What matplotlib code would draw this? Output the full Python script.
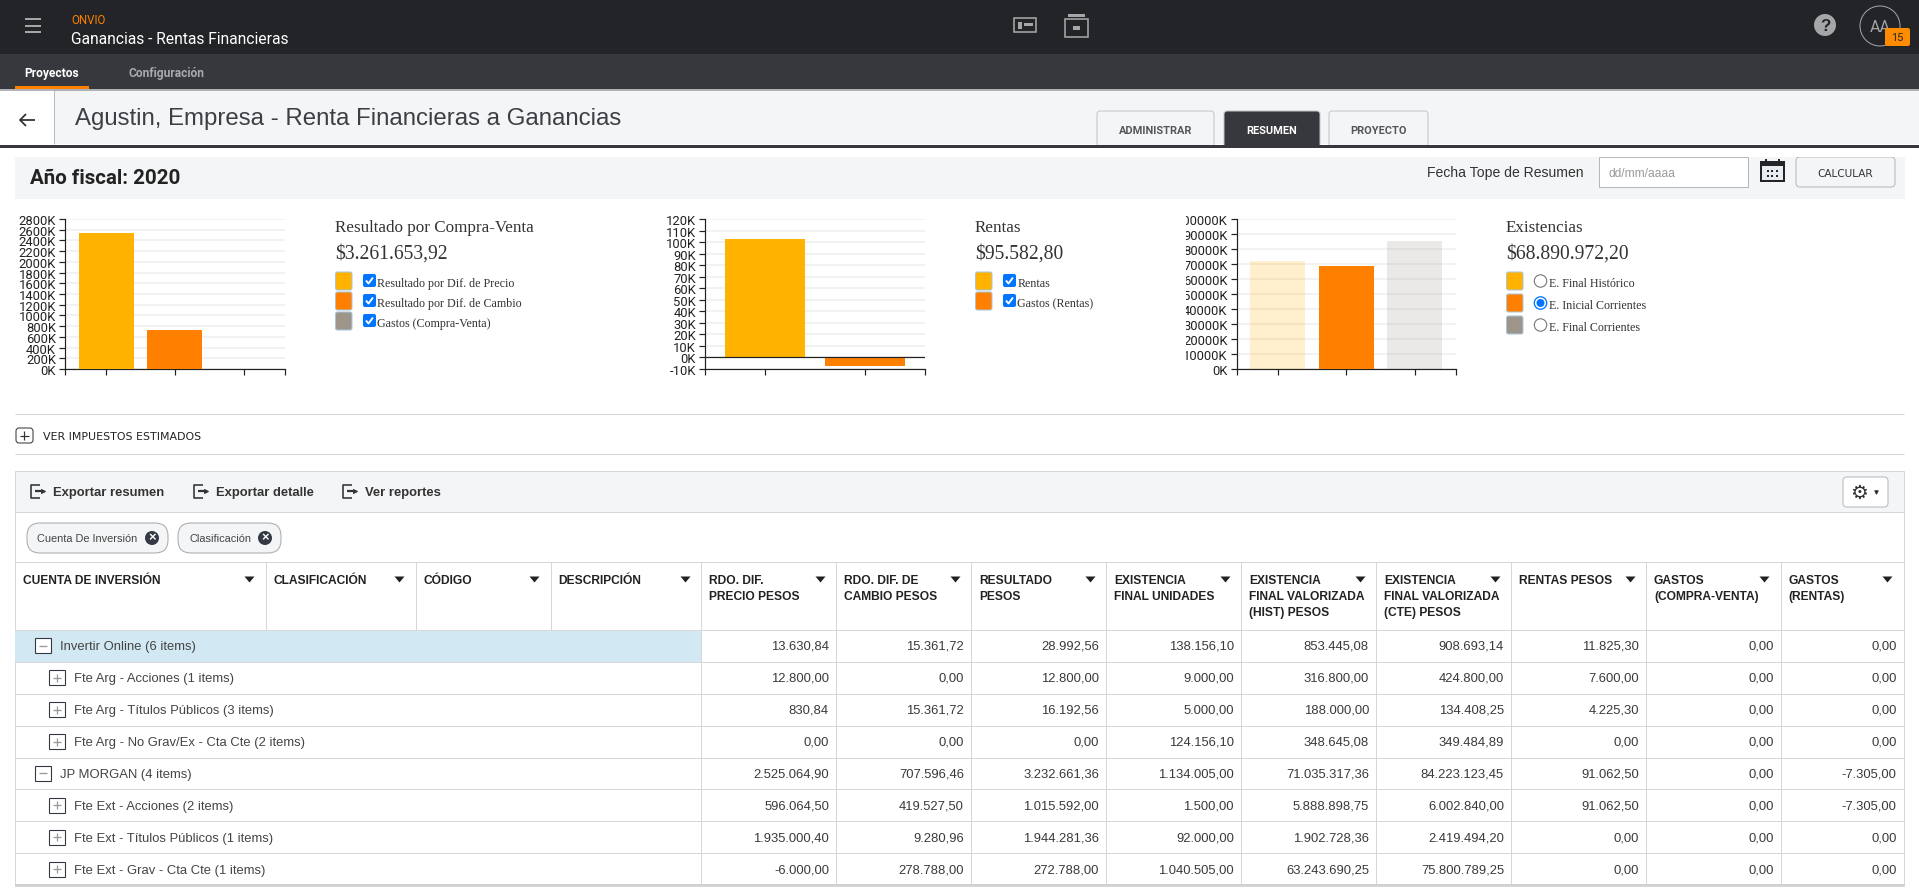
import matplotlib.pyplot as plt
import pandas as pd
from matplotlib.patches import Rectangle, FancyBboxPatch, Circle
from matplotlib.transforms import Bbox, TransformedBbox

inches_per_px = 1.0/72.0                # one point is one pixel at dpi 72
fig_size = [1920*inches_per_px, 896*inches_per_px]

#chart values
compra_venta = [2538695.74, 722958.18, 0.0]
compra_venta_labels = ["Resultado por Dif. de Precio", "Resultado por Dif. de Cambio", "Gastos (Compra-Venta)"]
rentas = [102887.80, -7305.00]
rentas_labels = ["Rentas", "Gastos (Rentas)"]
existencias = [71888762.44, 68890972.20, 85131816.59]
existencias_labels = ["E. Final Histórico", "E. Inicial Corrientes", "E. Final Corrientes"]

#table values
row_labels = ["Invertir Online (6 items)", "Fte Arg - Acciones (1 items)", "Fte Arg - Títulos Públicos (3 items)",
              "Fte Arg - No Grav/Ex - Cta Cte (2 items)", "JP MORGAN (4 items)", "Fte Ext - Acciones (2 items)",
              "Fte Ext - Títulos Públicos (1 items)", "Fte Ext - Grav - Cta Cte (1 items)"]
precio = ["13.630,84", "12.800,00", "830,84", "0,00", "2.525.064,90", "596.064,50", "1.935.000,40", "-6.000,00"]
cambio = ["15.361,72", "0,00", "15.361,72", "0,00", "707.596,46", "419.527,50", "9.280,96", "278.788,00"]
resultado = ["28.992,56", "12.800,00", "16.192,56", "0,00", "3.232.661,36", "1.015.592,00", "1.944.281,36", "272.788,00"]
unidades = ["138.156,10", "9.000,00", "5.000,00", "124.156,10", "1.134.005,00", "1.500,00", "92.000,00", "1.040.505,00"]
hist = ["853.445,08", "316.800,00", "188.000,00", "348.645,08", "71.035.317,36", "5.888.898,75", "1.902.728,36", "63.243.690,25"]
cte = ["908.693,14", "424.800,00", "134.408,25", "349.484,89", "84.223.123,45", "6.002.840,00", "2.419.494,20", "75.800.789,25"]
rentas_pesos = ["11.825,30", "7.600,00", "4.225,30", "0,00", "91.062,50", "91.062,50", "0,00", "0,00"]
gastos_cv = ["0,00", "0,00", "0,00", "0,00", "0,00", "0,00", "0,00", "0,00"]
gastos_rentas = ["0,00", "0,00", "0,00", "0,00", "-7.305,00", "-7.305,00", "0,00", "0,00"]
headers = [["CUENTA DE INVERSIÓN"], ["CLASIFICACIÓN"], ["CÓDIGO"], ["DESCRIPCIÓN"],
           ["RDO. DIF.", "PRECIO PESOS"], ["RDO. DIF. DE", "CAMBIO PESOS"], ["RESULTADO", "PESOS"],
           ["EXISTENCIA", "FINAL UNIDADES"], ["EXISTENCIA", "FINAL VALORIZADA", "(HIST) PESOS"],
           ["EXISTENCIA", "FINAL VALORIZADA", "(CTE) PESOS"], ["RENTAS PESOS"],
           ["GASTOS", "(COMPRA-VENTA)"], ["GASTOS", "(RENTAS)"]]

col_edges = [15.5, 266, 416, 551, 701.5, 836.5, 971.5, 1106.5, 1241.5, 1376.5, 1511.5, 1646.5, 1781, 1904]
row_edges = [630.5, 662.5, 694.5, 726.5, 758.5, 790.5, 822.5, 854.5, 886.5]

YELLOW = '#ffb300'
ORANGE = '#ff8000'
GREY = '#9e958a'
LINE = '#d5d7da'
BAND = '#f4f5f7'
DARK = '#232428'
TEXT = '#333333'

params = {
  'font.family': 'Liberation Sans',
  'axes.linewidth': 1.2,
  'xtick.major.width': 1.2,
  'ytick.major.width': 1.2,
  'savefig.dpi': 72,
  'figure.dpi': 72,
  }
plt.rcParams.update(params)

fig = plt.figure(figsize=fig_size)
page = fig.add_axes([0, 0, 1, 1])
page.set_xlim(0, 1920)
page.set_ylim(896, 0)
page.axis('off')


#page helpers, all in pixels from the top left
def box(x0, y0, x1, y1, color, edge='none', lw=1.0, round_px=0, z=1):
    if round_px:
        page.add_patch(FancyBboxPatch((x0, y0), x1-x0, y1-y0, boxstyle="round,pad=0,rounding_size=%s" % round_px,
                                      facecolor=color, edgecolor=edge, linewidth=lw, zorder=z))
    else:
        page.add_patch(Rectangle((x0, y0), x1-x0, y1-y0, facecolor=color, edgecolor=edge, linewidth=lw, zorder=z))


def line(xs, ys, color=LINE, lw=1.0, z=2):
    page.plot(xs, ys, color=color, linewidth=lw, zorder=z, solid_capstyle='butt')


def txt(x, y, s, size=13, color=TEXT, weight='normal', family='Liberation Sans', ha='left'):
    page.text(x, y+1, s, fontsize=size, color=color, fontweight=weight, family=family, ha=ha, va='center', zorder=5)


def circle(x, y, r, color, edge='none', lw=1.0):
    page.add_patch(Circle((x, y), r, facecolor=color, edgecolor=edge, linewidth=lw, zorder=4))


def export_icon(x, y):
    line([x+9, x, x, x+9], [y-6, y-6, y+7, y+7], color=TEXT, lw=1.6, z=4)
    line([x+4, x+11], [y, y], color=TEXT, lw=2.2, z=4)
    page.plot([x+12], [y], marker='>', color=TEXT, markersize=4, zorder=4)


def toggle(x, y, sign):
    box(x-8, y-7.5, x+8, y+7.5, 'white', edge='#333a44', lw=1.1, z=4)
    line([x-4, x+4], [y, y], color='#999999', lw=1.3, z=5)
    if sign == '+':
        line([x, x], [y-4, y+4], color='#999999', lw=1.3, z=5)


def plot_header():
    box(0, 0, 1920, 55, DARK)
    box(0, 55, 1920, 90, '#37383d')
    for y in [20, 27, 33]:
        line([25, 41], [y, y], color='#a5a6a8', lw=2)
    txt(71, 19, "ONVIO", size=11.5, color='#ff8000', family='Roboto')
    txt(71, 38, "Ganancias - Rentas Financieras", size=15.6, color='white', family='Roboto')
    txt(24, 72, "Proyectos", size=12, color='white', weight='bold', family='Roboto')
    txt(129, 72, "Configuración", size=12, color='#a8a9ab', weight='bold', family='Roboto')
    box(15, 87, 89, 90, ORANGE)
    #id card
    box(1014, 19, 1036, 33, 'none', edge='#a5a6a8', lw=1.6, z=3)
    box(1018, 23, 1022, 30, '#a5a6a8', z=3)
    box(1024, 24, 1033, 27, '#a5a6a8', z=3)
    #archive box
    box(1068, 15, 1085, 18, '#a5a6a8', z=3)
    box(1065, 20, 1088, 38, 'none', edge='#a5a6a8', lw=1.6, z=3)
    box(1073, 27, 1080, 31, '#a5a6a8', z=3)
    circle(1825, 26, 11, '#a5a6a8')
    page.text(1825, 26.5, "?", fontsize=17, color=DARK, fontweight='bold', ha='center', va='center', zorder=5)
    circle(1880, 27, 20, 'none', edge='#a5a6a8', lw=1.0)
    txt(1880, 26, "AA", size=16, color='#a5a6a8', family='Roboto', ha='center')
    box(1885, 29, 1910, 47, '#ff8c00', round_px=2, z=5)
    page.text(1897, 38, "15", fontsize=11, color=DARK, ha='center', va='center', zorder=6, family='Roboto')
    #title band
    box(0, 90, 1920, 145, BAND)
    box(0, 90, 54, 145, 'white')
    line([0, 1920], [91, 91], color='#9a9b9e', lw=1.5, z=3)   # shadow under the nav
    line([54, 54], [91, 145], color='#b9babd')
    line([20, 35], [121, 121], color=TEXT, lw=1.8, z=4)
    line([26, 20, 26], [115, 121, 127], color=TEXT, lw=1.8, z=4)
    txt(75, 118, "Agustin, Empresa - Renta Financieras a Ganancias", size=24, color='#3d3f45')
    box(0, 145.5, 1920, 148.5, '#37383d', z=3)
    for x0, x1, s, bg, fg in [(1097, 1214, "ADMINISTRAR", BAND, '#55565a'), (1224, 1320, "RESUMEN", '#37383d', 'white'),
                              (1329, 1428, "PROYECTO", BAND, '#55565a')]:
        box(x0, 112, x1, 150, bg, edge='#c3c5c8', round_px=3, z=2)
        txt((x0+x1)/2, 130, s, size=11, color=fg, weight='bold', family='Roboto', ha='center')
    box(0, 148.5, 1920, 158, 'white', z=2)
    #fiscal year band
    box(15, 158, 1905, 200, BAND)
    txt(30, 177.5, "Año fiscal: 2020", size=20.5, color='#222222', weight='bold', family='Roboto')
    txt(1584, 172, "Fecha Tope de Resumen", size=14, ha='right')
    box(1599, 158, 1748, 188, 'white', edge='#b5b7ba')
    txt(1609, 173, "dd/mm/aaaa", size=12, color='#9a9a9a')
    #calendar
    box(1760, 162, 1785, 183, DARK, z=3)
    box(1765, 160, 1767, 164, DARK, z=3)
    box(1778, 160, 1780, 164, DARK, z=3)
    box(1762, 167, 1783, 181, '#e8edf2', z=3)
    for x in [1768, 1772.5, 1777]:
        for y in [172, 177]:
            box(x-1, y-1, x+1, y+1, DARK, z=4)
    box(1796, 158, 1895, 188, BAND, edge='#b5b7ba', round_px=4)
    page.text(1845, 174, "CALCULAR", fontsize=10.5, color=TEXT, family='DejaVu Sans', ha='center', va='center', zorder=5)


#Assumes one value per bar, bars are drawn with the alpha given per bar
def plot_bars(x0, x1, values, colors, alphas, ymin, ymax, step):
    ax = fig.add_axes([x0/1920.0, 1-370/896.0, (x1-x0)/1920.0, 150/896.0])
    ax.patch.set_alpha(0)
    n = len(values)
    ax.set_xlim(-0.6, n-0.4)
    ax.set_ylim(ymin, ymax)
    ticks = list(range(ymin, ymax+step, step))
    ax.set_yticks(ticks)
    ax.set_yticklabels(["%dK" % (t/1000) for t in ticks], fontsize=13, family='Roboto', color='#222222')
    ax.set_xticks([-0.6]+list(range(n))+[n-0.4])
    ax.set_xticklabels([])
    ax.tick_params(axis='y', length=6, pad=3, color='#222222')
    ax.tick_params(axis='x', length=6, color='#222222')
    ax.grid(axis='y', color='#f0f0f0', linewidth=1.6)
    ax.set_axisbelow(True)
    ax.spines['top'].set_visible(False)
    ax.spines['right'].set_visible(False)
    ax.spines['left'].set_color('#222222')
    ax.spines['bottom'].set_color('#222222')
    for i in range(n):
        ax.bar(i, values[i], width=0.8, color=colors[i], alpha=alphas[i], zorder=3)
    if ymin < 0:
        ax.axhline(0, color='#222222', linewidth=1.2, zorder=4)
    return ax


def plot_legend(x, title, amount, labels, colors, tops, selected=None):
    txt(x, 227, title, size=17, family='Liberation Serif')
    txt(x, 253.5, amount, size=19.6, family='Liberation Serif')
    for i, s in enumerate(labels):
        y = tops[i]+9
        box(x+0.5, tops[i], x+17, tops[i]+18, colors[i], edge='#a9c5dc', lw=1.0, round_px=2, z=3)
        if selected is None:
            box(x+28, y-7, x+41, y+6, '#0075ff', round_px=2, z=3)
            line([x+31, x+33.5, x+38], [y-0.5, y+2.5, y-3.5], color='white', lw=1.9, z=4)
            txt(x+42.5, y+1, s, size=12, family='Liberation Serif')
        else:
            if i == selected:
                circle(x+34.5, y, 6.2, 'white', edge='#0075ff', lw=1.3)
                circle(x+34.5, y, 4, '#0075ff')
            else:
                circle(x+34.5, y, 6.2, 'white', edge='#767676', lw=1.1)
            txt(x+43.5, y+1, s, size=12, family='Liberation Serif')


def plot_table(df):
    left, right = col_edges[0], col_edges[-1]
    #expander and toolbar
    line([left, right], [415, 415])
    line([left, right], [455, 455])
    box(16, 429, 33, 444, 'white', edge='#333333', round_px=3, z=3)
    line([20, 29], [436.5, 436.5], color='#333333', lw=1.2, z=4)
    line([24.5, 24.5], [432, 441], color='#333333', lw=1.2, z=4)
    txt(43, 436, "VER IMPUESTOS ESTIMADOS", size=11, color='#222222', family='DejaVu Sans')
    box(left, 472, right, 513, BAND, edge=LINE)
    box(left, 513, right, 886.5, 'white', edge=LINE)
    line([left, right], [886.5, 886.5], color='#cfd0d2', lw=2, z=3)
    for x, s in [(31, "Exportar resumen"), (194, "Exportar detalle"), (343, "Ver reportes")]:
        export_icon(x, 492)
        txt(x+22, 492, s, size=13, weight='bold')
    box(1843, 478, 1888, 508, 'white', edge='#b5b7ba', round_px=4, z=3)
    page.text(1859, 493, "\u2699", fontsize=20, color=TEXT, family='DejaVu Sans', ha='center', va='center', zorder=5)
    page.plot([1876], [493], marker='v', color=TEXT, markersize=3.5, zorder=5)
    #chips
    for x0, x1, xt, xc, s in [(27, 168, 37, 152, "Cuenta De Inversión"), (178, 281, 190, 265, "Clasificación")]:
        box(x0, 524, x1, 554, '#f4f5f7', edge='#a7a9ac', round_px=13, z=3)
        txt(xt, 538, s, size=11, color='#444444')
        circle(xc, 539, 7, '#333a44')
        page.text(xc, 538.5, "×", fontsize=13, color='white', fontweight='bold', ha='center', va='center', zorder=5)
    #header row
    line([left, right], [563, 563])
    line([left, right], [row_edges[0], row_edges[0]])
    arrow = [(-1, 0.6), (1, 0.6), (0, -0.6)]    # wider than the stock triangle
    for i in range(len(headers)):
        if i > 0:
            line([col_edges[i], col_edges[i]], [563, row_edges[0]])
        for j, s in enumerate(headers[i]):
            txt(col_edges[i]+7.5, 580+16*j, s, size=12, color='#222222', weight='bold')
        page.plot([col_edges[i+1]-16.5], [579.5], marker=arrow, color='#222222', markersize=10, markeredgewidth=0, zorder=5)
    #body
    box(left, row_edges[0], 701.5, row_edges[1], '#d2e8f2')
    for y in row_edges[1:-1]:
        line([left, right], [y, y])
    for x in col_edges[4:-1]:
        line([x, x], [row_edges[0], row_edges[-1]])
    for i, label in enumerate(df.index):
        y = (row_edges[i]+row_edges[i+1])/2.0
        top_level = i in (0, 4)
        toggle(43 if top_level else 57, y, '-' if top_level else '+')
        txt(60 if top_level else 74, y, label, size=13, color='#444444')
        for k, col in enumerate(df.columns):
            txt(col_edges[k+5]-7.5, y-0.5, df[col].iloc[i], size=13, color='#3a3a3a', ha='right')


df = pd.DataFrame({'precio': precio, 'cambio': cambio, 'resultado': resultado, 'unidades': unidades,
                   'hist': hist, 'cte': cte, 'rentas': rentas_pesos, 'gastos_cv': gastos_cv,
                   'gastos_rentas': gastos_rentas}, index=row_labels)

plot_header()

plot_bars(65, 285, compra_venta, [YELLOW, ORANGE, GREY], [1, 1, 1], 0, 2800000, 200000)
plot_legend(335, "Resultado por Compra-Venta", "$3.261.653,92", compra_venta_labels, [YELLOW, ORANGE, GREY], [273, 293, 313])

plot_bars(705, 925, rentas, [YELLOW, ORANGE], [1, 1], -10000, 120000, 10000)
plot_legend(975, "Rentas", "$95.582,80", rentas_labels, [YELLOW, ORANGE], [273, 293])

ax_ex = plot_bars(1236.5, 1456, existencias, [YELLOW, ORANGE, GREY], [0.2, 1, 0.2], 0, 100000000, 10000000)
plot_legend(1506, "Existencias", "$68.890.972,20", existencias_labels, [YELLOW, ORANGE, GREY], [273, 295, 317], selected=1)
#the labels of this axis do not fit in the svg and are cut on the left
for lab in ax_ex.get_yticklabels():
    lab.set_clip_on(True)
    lab.set_clip_box(TransformedBbox(Bbox([[1186, 0], [1920, 896]]), page.transData))

plot_table(df)

plt.savefig("out.png")
